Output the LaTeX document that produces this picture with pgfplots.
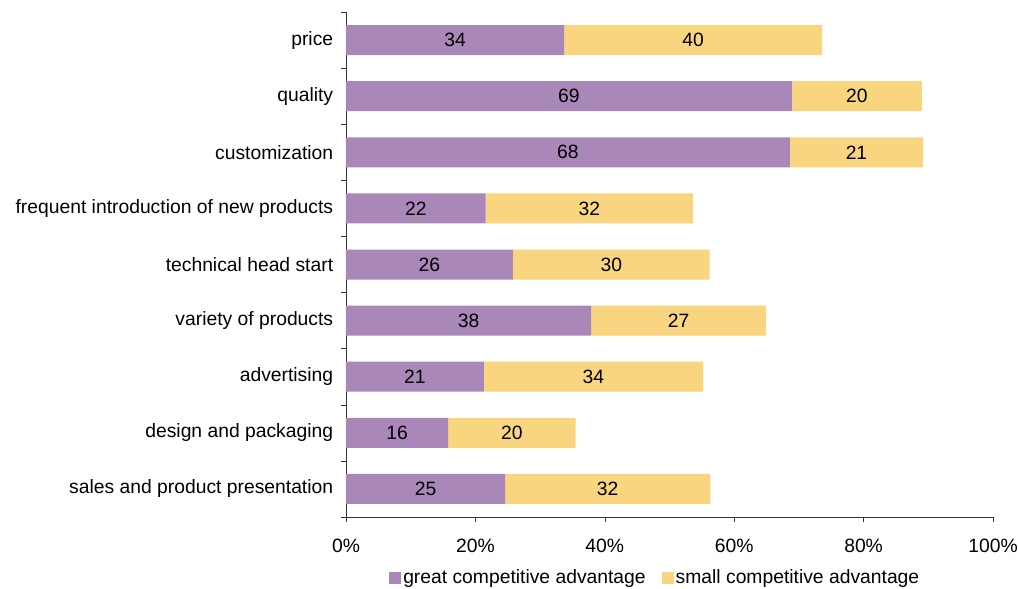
\documentclass[border=0pt]{standalone}
\usepackage{pgfplots}
\pgfplotsset{compat=1.18}
\usepackage{fontspec}
\setmainfont{Liberation Sans}
\definecolor{cpurple}{HTML}{A987B9}
\definecolor{cyellow}{HTML}{F9D57F}
\begin{document}
\fontsize{9.65}{11.6}\selectfont
\begin{tikzpicture}
\path[use as bounding box] (-173pt,-36pt) rectangle (336pt,258.5pt);
\pgfplotsset{
  common/.style={
    scale only axis, width=323.5pt, height=252.5pt,
    xmin=0, xmax=100, ymin=-0.5, ymax=8.5,
    at={(0,0)}, anchor=south west,
  }
}
\begin{axis}[
  common,
  xbar stacked, bar width=15pt,
  axis x line*=bottom, axis y line*=left,
  axis line style={black!80},
  tick align=outside, major tick length=2.5pt,
  tick style={black!80},
  xtick={0,20,...,100},
  xticklabels={0\%,20\%,40\%,60\%,80\%,100\%},
  xticklabel style={yshift=-5pt},
  ytick={-0.5,0.5,...,8.5},
  y tick label as interval,
  yticklabels={sales and product presentation,design and packaging,advertising,variety of products,technical head start,frequent introduction of new products,customization,quality,price},
  yticklabel style={xshift=-0.5pt},
  legend style={at={(0.478,-0.121)}, anchor=center, draw=none, legend columns=2,
    /tikz/every even column/.append style={column sep=7pt},
    nodes={inner sep=1pt}},
  legend image code/.code={\fill[#1] (0pt,-3pt) rectangle (6pt,3pt);},
]
\addplot[fill=cpurple, draw=none] coordinates {
(24.6,0) (15.8,1) (21.3,2) (37.9,3) (25.8,4) (21.6,5) (68.6,6) (68.9,7) (33.7,8)};
\addplot[fill=cyellow, draw=none] coordinates {
(31.7,0) (19.7,1) (33.9,2) (27.0,3) (30.4,4) (32.0,5) (20.6,6) (20.1,7) (39.9,8)};
\legend{great competitive advantage, small competitive advantage}
\end{axis}
\begin{axis}[
  common, hide axis,
]
\addplot[draw=none, nodes near coords, point meta=explicit symbolic,
  nodes near coords style={anchor=center}] coordinates {
(12.3,0)[25] (7.9,1)[16] (10.65,2)[21] (18.95,3)[38] (12.9,4)[26] (10.8,5)[22] (34.3,6)[68] (34.45,7)[69] (16.85,8)[34]
(40.45,0)[32] (25.65,1)[20] (38.25,2)[34] (51.4,3)[27] (41.0,4)[30] (37.6,5)[32] (78.9,6)[21] (78.95,7)[20] (53.65,8)[40]
};
\end{axis}
\end{tikzpicture}
\end{document}
